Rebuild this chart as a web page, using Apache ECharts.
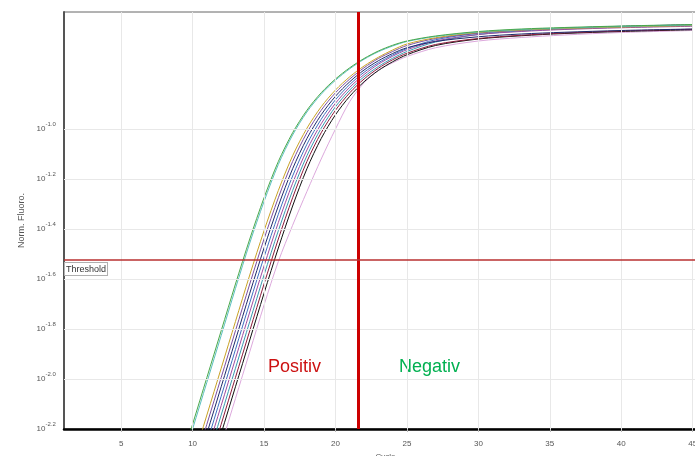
<!DOCTYPE html>
<html>
<head>
<meta charset="utf-8">
<script src="https://cdn.jsdelivr.net/npm/echarts@6/dist/echarts.min.js"></script>
<style>
  html, body { margin: 0; padding: 0; background: #fff; }
  #chart { width: 695px; height: 456px; }
</style>
</head>
<body>
<div id="chart"></div>
<script>
// x: Zyklus, y: log10(Norm. Fluoro.)
var cycles = [9, 10, 11, 12, 13, 14, 15, 16, 17, 18, 19, 20, 21, 22, 23, 24, 25, 27, 30, 33, 36, 40, 45];

var green    = [-2.368, -2.181, -1.994, -1.807, -1.620, -1.440, -1.275, -1.130, -1.015, -0.925, -0.855, -0.800, -0.755, -0.718, -0.688, -0.665, -0.648, -0.628, -0.610, -0.600, -0.594, -0.588, -0.582];
var teal     = [-2.387, -2.200, -2.013, -1.826, -1.638, -1.456, -1.290, -1.142, -1.024, -0.932, -0.861, -0.805, -0.759, -0.721, -0.691, -0.668, -0.650, -0.630, -0.612, -0.602, -0.596, -0.590, -0.584];
var olive    = [-2.518, -2.331, -2.144, -1.957, -1.770, -1.584, -1.407, -1.246, -1.107, -0.997, -0.911, -0.844, -0.791, -0.748, -0.713, -0.684, -0.660, -0.635, -0.614, -0.604, -0.598, -0.592, -0.586];
var purple   = [-2.555, -2.368, -2.181, -1.994, -1.807, -1.620, -1.440, -1.275, -1.130, -1.015, -0.925, -0.855, -0.800, -0.755, -0.718, -0.690, -0.666, -0.638, -0.616, -0.604, -0.597, -0.590, -0.583];
var navy     = [-2.592, -2.405, -2.218, -2.031, -1.844, -1.657, -1.476, -1.308, -1.159, -1.038, -0.943, -0.869, -0.811, -0.764, -0.727, -0.698, -0.675, -0.650, -0.631, -0.620, -0.613, -0.606, -0.600];
var blue     = [-2.630, -2.443, -2.256, -2.069, -1.882, -1.695, -1.512, -1.341, -1.188, -1.061, -0.961, -0.883, -0.822, -0.773, -0.735, -0.704, -0.678, -0.643, -0.617, -0.605, -0.597, -0.589, -0.583];
var magenta  = [-2.667, -2.480, -2.293, -2.106, -1.919, -1.732, -1.548, -1.374, -1.217, -1.084, -0.979, -0.897, -0.833, -0.782, -0.741, -0.709, -0.683, -0.648, -0.622, -0.610, -0.602, -0.595, -0.589];
var steel    = [-2.705, -2.518, -2.331, -2.144, -1.957, -1.770, -1.584, -1.407, -1.246, -1.107, -0.997, -0.911, -0.844, -0.791, -0.750, -0.717, -0.690, -0.652, -0.622, -0.608, -0.600, -0.593, -0.587];
var maroon   = [-2.742, -2.555, -2.368, -2.181, -1.994, -1.807, -1.620, -1.440, -1.275, -1.130, -1.015, -0.925, -0.855, -0.800, -0.757, -0.723, -0.697, -0.662, -0.638, -0.625, -0.616, -0.608, -0.601];
var black    = [-2.779, -2.592, -2.405, -2.218, -2.031, -1.844, -1.657, -1.476, -1.308, -1.159, -1.038, -0.943, -0.869, -0.811, -0.766, -0.731, -0.703, -0.666, -0.640, -0.627, -0.618, -0.610, -0.603];
var pink     = [-2.826, -2.639, -2.452, -2.265, -2.078, -1.891, -1.704, -1.530, -1.385, -1.250, -1.120, -1.000, -0.890, -0.815, -0.765, -0.735, -0.710, -0.675, -0.648, -0.634, -0.624, -0.614, -0.606];

var xTicks = [5, 10, 15, 20, 25, 30, 35, 40, 45];
var yTicks = [-2.2, -2.0, -1.8, -1.6, -1.4, -1.2, -1.0];
var threshold = -1.524;
var cutoffCycle = 21.6;
var xMin = 1, xMax = 46;

var samples = [
  { name: 'S11', color: '#dca8dc', values: pink },
  { name: 'S10', color: '#111111', values: black },
  { name: 'S9',  color: '#8b1c3c', values: maroon },
  { name: 'S8',  color: '#3a9ab0', values: steel },
  { name: 'S7',  color: '#a04ca0', values: magenta },
  { name: 'S6',  color: '#3f6fbf', values: blue },
  { name: 'S5',  color: '#1f2a6b', values: navy },
  { name: 'S4',  color: '#7a4fa0', values: purple },
  { name: 'S3',  color: '#c9a227', values: olive },
  { name: 'S2',  color: '#5bbfbf', values: teal },
  { name: 'S1',  color: '#4aa84a', values: green }
];

var myChart = echarts.init(document.getElementById('chart'));

var series = [];
// Gitterlinien
series.push({
  type: 'line',
  data: [],
  z: 1,
  silent: true,
  markLine: {
    silent: true,
    symbol: 'none',
    animation: false,
    label: { show: false },
    lineStyle: { color: '#e8e8e8', width: 1, type: 'solid' },
    data: xTicks.map(function (x) { return { xAxis: x }; })
      .concat(yTicks.slice(1).map(function (y) { return { yAxis: y }; }))
  }
});

samples.forEach(function (s) {
  series.push({
    name: s.name,
    type: 'line',
    z: 2,
    showSymbol: false,
    symbol: 'none',
    smooth: 0.3,
    animation: false,
    lineStyle: { color: s.color, width: 1 },
    data: cycles.map(function (c, i) { return [c, s.values[i]]; })
  });
});

// Threshold
series.push({
  name: 'Threshold',
  type: 'line',
  z: 5,
  silent: true,
  showSymbol: false,
  symbol: 'none',
  animation: false,
  color: '#b83030',
  lineStyle: { color: '#b83030', width: 1.5 },
  data: [[xMin, threshold], [xMax, threshold]]
});

// Grenze Positiv / Negativ
series.push({
  type: 'line',
  data: [],
  z: 5,
  silent: true,
  markLine: {
    silent: true,
    symbol: 'none',
    animation: false,
    label: { show: false },
    lineStyle: { color: '#cc0000', width: 3, type: 'solid' },
    data: [{ xAxis: cutoffCycle }]
  }
});

myChart.setOption({
  animation: false,
  textStyle: { fontFamily: 'Liberation Sans, Arial, sans-serif' },
  grid: {
    left: 64,
    right: -12,
    top: 12,
    bottom: 27,
    outerBoundsMode: 'none',
    containLabel: false,
    show: true,
    borderColor: '#666',
    borderWidth: 1
  },
  xAxis: {
    type: 'value',
    min: xMin,
    max: xMax,
    name: 'Cycle',
    nameLocation: 'middle',
    nameGap: 12,
    nameTextStyle: { fontSize: 8, color: '#555' },
    axisLine: { show: true, lineStyle: { color: '#000', width: 2.5 } },
    axisTick: { show: true, length: 3, customValues: xTicks, lineStyle: { color: '#bbb' } },
    axisLabel: { customValues: xTicks, fontSize: 8, color: '#555', margin: 11 },
    splitLine: { show: false }
  },
  yAxis: {
    type: 'value',
    min: -2.2,
    max: -0.532,
    interval: 0.2,
    name: 'Norm. Fluoro.',
    nameLocation: 'middle',
    nameGap: 26,
    nameTextStyle: { fontSize: 9, color: '#555' },
    axisLine: { show: true, lineStyle: { color: '#555', width: 2 } },
    axisTick: { show: false },
    splitLine: { show: false },
    axisLabel: {
      margin: 8,
      formatter: function (v) {
        if (v > -0.95) return '';
        return '{b|10}{s|' + v.toFixed(1) + '}{z| }';
      },
      rich: {
        b: { fontSize: 8, color: '#555' },
        s: { fontSize: 6, color: '#555', verticalAlign: 'top' },
        z: { fontSize: 1, lineHeight: 15 }
      }
    }
  },
  graphic: [
    {
      type: 'text', left: 64, top: 262, z: 10,
      style: {
        text: 'Threshold', fill: '#333', fontSize: 9, fontFamily: 'Liberation Sans, Arial, sans-serif',
        backgroundColor: '#fff', borderColor: '#b0b0b0', borderWidth: 1, padding: [2, 1, 1, 1]
      }
    },
    { type: 'text', left: 268, top: 358, style: { text: 'Positiv', fill: '#cc1111', fontSize: 18, fontFamily: 'Liberation Sans, Arial, sans-serif' } },
    { type: 'text', left: 399, top: 358, style: { text: 'Negativ', fill: '#00b050', fontSize: 18, fontFamily: 'Liberation Sans, Arial, sans-serif' } }
  ],
  series: series
});
</script>
</body>
</html>
